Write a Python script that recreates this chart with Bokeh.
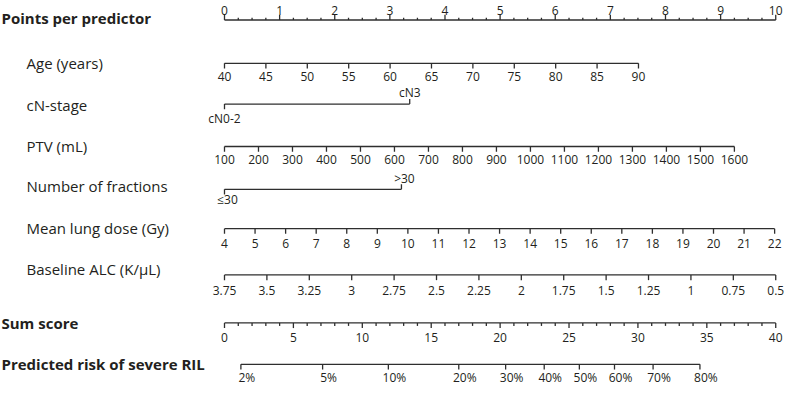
from bokeh.plotting import figure
from bokeh.models import Range1d
from bokeh.embed import file_html
from bokeh.resources import INLINE
from bokeh.core.properties import value

# ---------------- data ----------------
points_major = list(range(0, 11))
points_minor = [i * 0.25 for i in range(41) if i % 4 != 0]

age_ticks = [40, 45, 50, 55, 60, 65, 70, 75, 80, 85, 90]
age_points = (0.0, 7.51)          # points at age 40 and at age 90

cn_labels = ["cN0-2", "cN3"]
cn_points = [0.0, 3.36]

ptv_ticks = [100, 200, 300, 400, 500, 600, 700, 800, 900, 1000,
             1100, 1200, 1300, 1400, 1500, 1600]
ptv_points = (0.0, 9.25)          # points at 100 mL and at 1600 mL

frac_labels = ["≤30", ">30"]
frac_points = [0.0, 3.21]

mld_ticks = list(range(4, 23))
mld_points = (0.0, 9.98)          # points at 4 Gy and at 22 Gy

alc_ticks = [3.75, 3.5, 3.25, 3.0, 2.75, 2.5, 2.25, 2.0, 1.75, 1.5, 1.25, 1.0, 0.75, 0.5]
alc_tick_labels = ["3.75", "3.5", "3.25", "3", "2.75", "2.5", "2.25", "2",
                   "1.75", "1.5", "1.25", "1", "0.75", "0.5"]
alc_points = (0.0, 10.0)          # points at 3.75 and at 0.5 K/uL

sum_major = [0, 5, 10, 15, 20, 25, 30, 35, 40]
sum_minor = [i for i in range(41) if i % 5 != 0]
sum_full = 40                     # sum score spanning the full points width

risk_labels = ["2%", "5%", "10%", "20%", "30%", "40%", "50%", "60%", "70%", "80%"]
risk_scores = [1.19, 7.12, 11.89, 17.0, 20.4, 23.2, 25.75, 28.3, 31.1, 34.5]

row_titles = ["Points per predictor", "Age (years)", "cN-stage", "PTV (mL)",
              "Number of fractions", "Mean lung dose (Gy)", "Baseline ALC (K/\u03bcL)",
              "Sum score", "Predicted risk of severe RIL"]
row_bold = [True, False, False, False, False, False, False, True, True]

# ---------------- layout (vertical positions of rows) ----------------
Y_POINTS, Y_AGE, Y_CN, Y_PTV, Y_FRAC = 16.7, 62.7, 106.0, 151.0, 196.5
Y_MLD, Y_ALC, Y_SUM, Y_RISK = 238.2, 287.4, 338.3, 382.3
title_y = [14.5, 62.0, 106.5, 151.0, 193.0, 238.0, 281.0, 338.0, 382.0]

INK = "#231f20"
LINE = "#2e2e2e"
FONT = value("Open Sans")
MAJ, MIN_P, MIN_S = 5.5, 2.5, 3.2

X0, X1 = -4.0635, 10.159
p = figure(width=784, height=389, x_range=Range1d(X0, X1), y_range=Range1d(409, -4),
           output_backend="svg", toolbar_location=None, min_border=0,
           background_fill_color="white", border_fill_color="white")
p.xaxis.visible = False
p.yaxis.visible = False
p.grid.visible = False
p.outline_line_color = None


def lin(vals, v0, v1, rng):
    a, b = rng
    return [a + (v - v0) / (v1 - v0) * (b - a) for v in vals]


sx0, sy0, sx1, sy1 = [], [], [], []


def seg(xa, ya, xb, yb):
    sx0.append(xa); sy0.append(ya); sx1.append(xb); sy1.append(yb)


def labels(xs, ys, texts, align="center", baseline="middle", size="12px", x_offset=0):
    p.text(x=xs, y=ys, text=texts, text_font=FONT, text_font_size=size,
           text_align=align, text_baseline=baseline, text_color=INK, x_offset=x_offset)


def scale_row(xs, y, texts, label_dy, minor=None, minor_len=MIN_P, up=False):
    d = -1 if up else 1
    seg(min(xs), y, max(xs), y)
    for x in xs:
        seg(x, y, x, y + d * MAJ)
    if minor:
        for x in minor:
            seg(x, y, x, y + d * minor_len)
    labels(xs, [y + label_dy] * len(xs), texts)


# Points per predictor
scale_row([float(v) for v in points_major], Y_POINTS, [str(v) for v in points_major],
          -10.0, minor=points_minor, up=True)

# Age
scale_row(lin(age_ticks, 40, 90, age_points), Y_AGE, [str(v) for v in age_ticks], 14.5)

# cN-stage (two-level)
seg(cn_points[0], Y_CN, cn_points[1], Y_CN)
seg(cn_points[0], Y_CN, cn_points[0], Y_CN + MAJ)
seg(cn_points[1], Y_CN, cn_points[1], Y_CN - MAJ)
labels([cn_points[0]], [Y_CN + 15.0], [cn_labels[0]])
labels([cn_points[1]], [Y_CN - 12.0], [cn_labels[1]])

# PTV
scale_row(lin(ptv_ticks, 100, 1600, ptv_points), Y_PTV, [str(v) for v in ptv_ticks], 13.5)

# Number of fractions (two-level)
seg(frac_points[0], Y_FRAC, frac_points[1], Y_FRAC)
seg(frac_points[0], Y_FRAC, frac_points[0], Y_FRAC + MAJ)
seg(frac_points[1], Y_FRAC, frac_points[1], Y_FRAC - MAJ)
labels([frac_points[0]], [Y_FRAC + 10.5], [frac_labels[0]], x_offset=3)
labels([frac_points[1]], [Y_FRAC - 11.0], [frac_labels[1]], x_offset=3)

# Mean lung dose
scale_row(lin(mld_ticks, 4, 22, mld_points), Y_MLD, [str(v) for v in mld_ticks], 15.5)

# Baseline ALC
scale_row(lin(alc_ticks, 3.75, 0.5, alc_points), Y_ALC, alc_tick_labels, 16.0)

# Sum score
sum_x = [v * 10.0 / sum_full for v in sum_major]
sum_minor_x = [v * 10.0 / sum_full for v in sum_minor]
scale_row(sum_x, Y_SUM, [str(v) for v in sum_major], 15.0, minor=sum_minor_x, minor_len=MIN_S)

# Predicted risk
risk_x = [v * 10.0 / sum_full for v in risk_scores]
seg(min(risk_x), Y_RISK, max(risk_x), Y_RISK)
for x in risk_x:
    seg(x, Y_RISK, x, Y_RISK + MAJ)
labels(risk_x, [Y_RISK + 13.5] * len(risk_x), risk_labels, x_offset=6)

p.segment(x0=sx0, y0=sy0, x1=sx1, y1=sy1, line_color=LINE, line_width=1.3)

# Row titles
for t, ty, b in zip(row_titles, title_y, row_bold):
    p.text(x=[X0], y=[ty], text=[t], text_font=FONT,
           text_font_size="15px",
           text_font_style="bold" if b else "normal",
           text_align="left", text_baseline="middle", text_color=INK,
           x_offset=1 if b else 26)

open("out.html", "w").write(file_html(p, INLINE))
